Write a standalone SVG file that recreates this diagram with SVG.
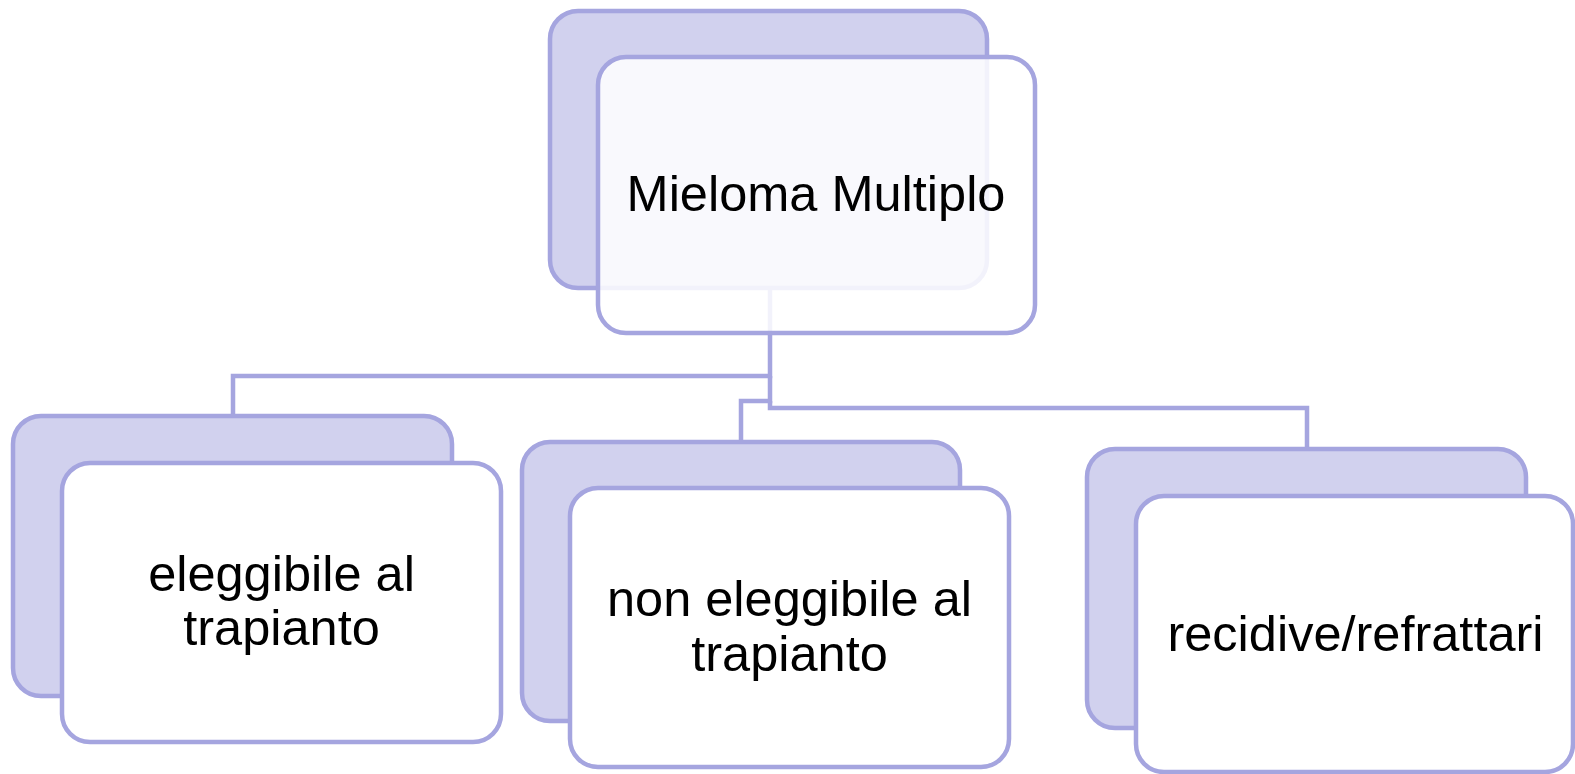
<svg xmlns="http://www.w3.org/2000/svg" width="1575" height="774" viewBox="0 0 1575 774">
<style>
.back{fill:#D1D1EE;stroke:#A5A5DF;stroke-width:4.5}
.front{fill:#FFFFFF;stroke:#A5A5DF;stroke-width:4.5}
.conn{fill:none;stroke:#A5A5DF;stroke-width:4.5;stroke-linejoin:miter}
.lbl{font-family:"Liberation Sans",Arial,sans-serif;font-size:50.5px;fill:#000;text-anchor:middle}
</style>
<rect width="1575" height="774" fill="#FFFFFF"/>
<g id="connectors">
<path class="conn" d="M770,288 V376 H233 V416"/>
<path class="conn" d="M770,376 V401 H741 V442"/>
<path class="conn" d="M770,401 V408 H1307 V449"/>
</g>
<g id="node-root">
<rect class="back" x="550" y="11" width="437" height="277" rx="28"/>
<rect class="front" x="598" y="57" width="437" height="276" rx="28" fill-opacity="0.86"/>
<text class="lbl" x="816" y="211">Mieloma Multiplo</text>
</g>
<g id="node-eleggibile">
<rect class="back" x="13" y="416" width="439" height="280" rx="28"/>
<rect class="front" x="62" y="463" width="439" height="279" rx="28"/>
<text class="lbl" x="281.5" y="591">eleggibile al</text>
<text class="lbl" x="281.5" y="645">trapianto</text>
</g>
<g id="node-non-eleggibile">
<rect class="back" x="522" y="442" width="438" height="279" rx="28"/>
<rect class="front" x="570" y="488" width="439" height="279" rx="28"/>
<text class="lbl" x="789.5" y="616">non eleggibile al</text>
<text class="lbl" x="789.5" y="671">trapianto</text>
</g>
<g id="node-recidive">
<rect class="back" x="1087" y="449" width="439" height="279" rx="28"/>
<rect class="front" x="1136" y="496" width="437" height="276" rx="28"/>
<text class="lbl" x="1355.5" y="651">recidive/refrattari</text>
</g>
</svg>
